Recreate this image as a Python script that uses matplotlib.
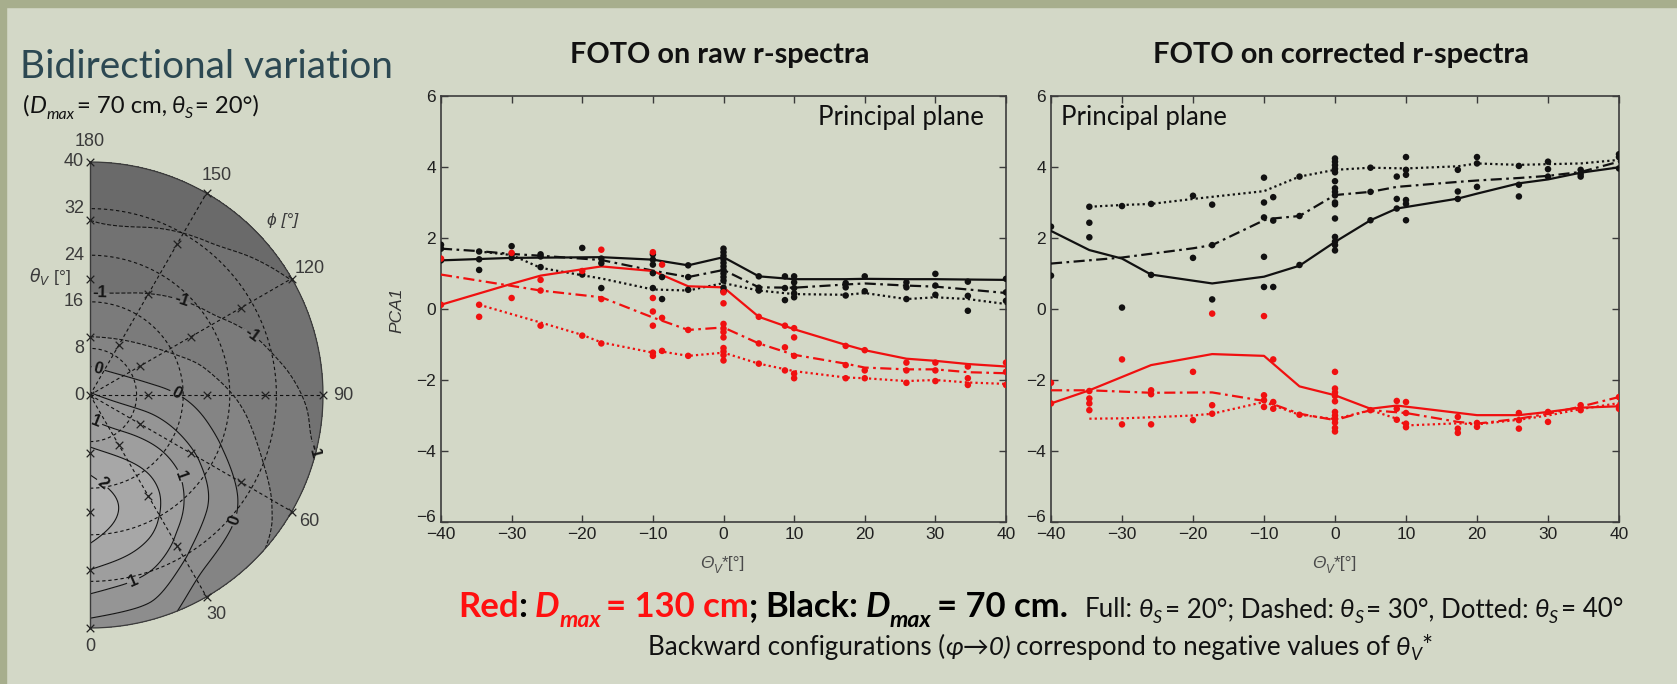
import numpy as np
import matplotlib
matplotlib.use("Agg")
import matplotlib.pyplot as plt
import matplotlib.tri as mtri
from matplotlib.transforms import IdentityTransform, ScaledTranslation
from matplotlib.colors import LinearSegmentedColormap
from matplotlib.patches import Rectangle

# ---------------- data ----------------
ANG = [-40, -30, -20, -10, 0, 10, 20, 30, 40]

raw_black_full_x = [-40, -30, -17.3, -10, -5, 0, 5, 10, 17.3, 20, 25.9, 30, 34.6, 40]
raw_black_full_y = [1.37, 1.44, 1.46, 1.39, 1.23, 1.46, 0.92, 0.84, 0.84, 0.85, 0.84, 0.84, 0.83, 0.82]
raw_black_dash_x = [-40, -34.6, -30, -25.9, -17.3, -10, -5, 0, 5, 10, 17.3, 20, 25.9, 30, 34.6, 40]
raw_black_dash_y = [1.70, 1.63, 1.55, 1.50, 1.38, 1.08, 0.90, 1.10, 0.61, 0.60, 0.69, 0.72, 0.66, 0.63, 0.55, 0.45]
raw_black_dot_x = [-34.6, -30, -25.9, -20, -17.3, -10, -5, 0, 5, 10, 17.3, 20, 25.9, 30, 34.6, 40]
raw_black_dot_y = [1.62, 1.52, 1.16, 0.95, 0.86, 0.55, 0.52, 0.73, 0.52, 0.42, 0.40, 0.45, 0.28, 0.33, 0.28, 0.14]
raw_red_full_x = [-40, -30, -25.9, -17.3, -10, -5, 0, 5, 10, 17.3, 20, 25.9, 30, 34.6, 40]
raw_red_full_y = [0.12, 0.71, 0.94, 1.20, 1.07, 0.64, 0.61, -0.22, -0.57, -1.01, -1.16, -1.40, -1.46, -1.55, -1.62]
raw_red_dash_x = [-40, -25.9, -17.3, -10, -5, 0, 5, 10, 17.3, 20, 25.9, 30, 34.6, 40]
raw_red_dash_y = [0.97, 0.52, 0.33, -0.24, -0.59, -0.52, -0.97, -1.29, -1.54, -1.65, -1.70, -1.70, -1.78, -1.81]
raw_red_dot_x = [-34.6, -25.9, -20, -17.3, -10, -8.7, -5, 0, 5, 10, 17.3, 20, 25.9, 30, 34.6, 40]
raw_red_dot_y = [0.12, -0.38, -0.73, -0.94, -1.23, -1.20, -1.32, -1.23, -1.54, -1.75, -1.93, -1.95, -2.03, -2.00, -2.07, -2.11]

cor_black_full_x = [-40, -34.6, -30, -25.9, -17.3, -10, -5, 0, 5, 8.7, 17.3, 20, 25.9, 30, 34.6, 40]
cor_black_full_y = [2.20, 1.66, 1.42, 0.97, 0.72, 0.91, 1.22, 1.89, 2.50, 2.83, 3.11, 3.25, 3.54, 3.65, 3.84, 3.99]
cor_black_dash_x = [-40, -30, -20, -17.3, -10, -8.7, -5, 0, 5, 8.7, 17.3, 20, 25.9, 30, 34.6, 40]
cor_black_dash_y = [1.28, 1.45, 1.71, 1.80, 2.50, 2.55, 2.62, 3.21, 3.30, 3.44, 3.58, 3.62, 3.69, 3.75, 3.86, 4.15]
cor_black_dot_x = [-34.6, -30, -25.9, -20, -17.3, -10, -5, 0, 5, 10, 17.3, 20, 25.9, 30, 34.6, 40]
cor_black_dot_y = [2.88, 2.93, 2.96, 3.10, 3.16, 3.32, 3.73, 3.92, 3.98, 3.96, 4.02, 4.10, 4.06, 4.08, 4.10, 4.20]
cor_red_full_x = [-40, -34.6, -25.9, -17.3, -10, -5, 0, 5, 8.7, 10, 20, 25.9, 30, 34.6, 40]
cor_red_full_y = [-2.66, -2.29, -1.58, -1.27, -1.32, -2.18, -2.43, -2.81, -2.72, -2.75, -2.99, -2.99, -2.90, -2.78, -2.74]
cor_red_dash_x = [-40, -34.6, -25.9, -17.3, -10, -5, 0, 5, 10, 17.3, 20, 25.9, 30, 34.6, 40]
cor_red_dash_y = [-2.29, -2.29, -2.36, -2.35, -2.59, -2.95, -3.13, -2.85, -2.93, -3.18, -3.23, -3.09, -2.95, -2.75, -2.48]
cor_red_dot_x = [-34.6, -30, -25.9, -20, -17.3, -10, -5, 0, 5, 8.7, 10, 17.3, 20, 25.9, 30, 34.6, 40]
cor_red_dot_y = [-3.09, -3.08, -3.05, -3.00, -2.95, -2.62, -2.98, -3.10, -2.85, -3.09, -3.28, -3.22, -3.25, -3.12, -3.00, -2.82, -2.65]

raw_black_pts = [(-40, [1.81, 1.70, 1.37]), (-34.6, [1.40, 1.10, 1.62]), (-30, [1.77, 1.54, 1.44]),
                 (-25.9, [1.54, 1.18, 1.48]), (-20, [1.72, 0.97]), (-17.3, [1.42, 1.29, 0.59]),
                 (-10, [1.54, 1.39, 1.25, 1.01, 0.59]), (-8.7, [0.90, 0.28]), (-5, [1.23, 0.90, 0.54]),
                 (0, [1.70, 1.60, 1.50, 1.40, 1.30, 1.20, 1.10, 1.00, 0.90, 0.80, 0.60, 0.50]),
                 (5, [0.92, 0.60, 0.52]), (8.7, [0.92, 0.59, 0.25]), (10, [0.92, 0.75, 0.59, 0.44, 0.33]),
                 (17.3, [0.73, 0.61, 0.38]), (20, [0.92, 0.50]), (25.9, [0.75, 0.61, 0.28]),
                 (30, [0.99, 0.66, 0.40]), (34.6, [0.77, 0.37, -0.05]), (40, [0.85, 0.47, 0.23])]
raw_red_pts = [(-40, [1.42, 0.12]), (-34.6, [0.12, -0.22]), (-30, [1.58, 0.31]), (-25.9, [0.82, 0.52, -0.47]),
               (-20, [1.07, -0.75]), (-17.3, [1.67, 0.28, -0.97]), (-10, [1.60, 0.31, -0.07, -0.47, -1.23, -1.32]),
               (-8.7, [1.25, -0.25, -1.18]), (-5, [-0.59, -1.32]),
               (0, [0.47, 0.16, -0.42, -0.55, -0.65, -0.80, -1.10, -1.20, -1.30, -1.45]),
               (5, [-0.22, -0.97, -1.54]), (8.7, [-0.47, -1.08, -1.73]), (10, [-0.54, -0.80, -1.32, -1.82, -1.95]),
               (17.3, [-1.04, -1.58, -1.95]), (20, [-1.16, -1.73, -1.95]), (25.9, [-1.51, -1.73, -2.08]),
               (30, [-1.51, -1.73, -2.03]), (34.6, [-1.62, -1.95, -2.14]), (40, [-1.51, -1.77, -2.14])]
cor_black_pts = [(-40, [2.32, 0.94]), (-34.6, [2.88, 2.43, 2.02]), (-30, [2.90, 0.04]), (-25.9, [2.96, 0.96]),
                 (-20, [3.19, 1.44]), (-17.3, [2.94, 1.80, 0.27]), (-10, [3.70, 3.00, 2.58, 1.47, 0.62]),
                 (-8.7, [3.15, 2.49, 0.62]), (-5, [3.73, 2.62, 1.24]),
                 (0, [4.24, 4.15, 4.05, 3.95, 3.85, 3.60, 3.40, 3.30, 3.20, 3.00, 2.95, 2.55, 2.03, 1.90, 1.80, 1.65]),
                 (5, [3.98, 3.30, 2.50]), (8.7, [3.73, 3.10, 2.83]), (10, [4.28, 3.92, 3.78, 3.07, 2.96, 2.50]),
                 (17.3, [3.92, 3.31, 3.10]), (20, [4.28, 4.10, 3.44]), (25.9, [4.03, 3.50, 3.17]),
                 (30, [4.15, 3.94, 3.73]), (34.6, [3.92, 3.80, 3.73]), (40, [4.36, 4.28, 3.96])]
cor_red_pts = [(-40, [-2.08, -2.66]), (-34.6, [-2.31, -2.52, -2.66, -2.85]), (-30, [-1.42, -3.25]),
               (-25.9, [-2.29, -2.40, -3.25]), (-20, [-1.77, -3.13]), (-17.3, [-0.13, -2.71, -2.95]),
               (-10, [-0.20, -2.43, -2.57, -2.76]), (-8.7, [-1.42, -2.62, -2.81]), (-5, [-2.98]),
               (0, [-1.77, -2.24, -2.35, -2.45, -2.60, -2.90, -3.00, -3.10, -3.20, -3.35, -3.45]),
               (5, [-2.85]), (8.7, [-2.59, -2.81, -3.12]), (10, [-2.62, -2.93, -3.23, -3.33]),
               (17.3, [-3.04, -3.37, -3.49]), (20, [-3.21, -3.32]), (25.9, [-2.93, -3.13, -3.37]),
               (30, [-2.90, -3.18]), (34.6, [-2.71, -2.85]), (40, [-2.48, -2.74, -2.81])]

# polar PCA1 field, sampled on a lattice (x = theta*sin(phi), y = -theta*cos(phi)); rows: y, cols: x
polar_lat_x = [0, 10, 20, 30, 40]
polar_lat_y = [40, 30, 20, 10, 0, -10, -20, -30, -40]
polar_lat_pca = [
    [-1.85, -1.90, -2.00, -2.10, -2.20],
    [-1.50, -1.55, -1.65, -1.80, -1.95],
    [-1.12, -1.12, -1.23, -1.40, -1.60],
    [-0.50, -0.60, -0.80, -1.05, -1.30],
    [0.55, 0.20, -0.25, -0.75, -1.05],
    [1.62, 1.20, 0.30, -0.55, -1.05],
    [2.30, 1.70, 0.50, -0.40, -0.90],
    [1.50, 1.05, -0.05, -0.60, -1.00],
    [0.30, 0.10, -0.50, -0.90, -1.20],
]
polar_meas_theta = [10, 20, 30, 40]
polar_meas_phi = [0, 30, 60, 90, 120, 150, 180]
polar_rings = [8, 16, 24, 32]
polar_ring_labels = [40, 32, 24, 16, 8, 0]
polar_phi_labels = [150, 120, 90, 60, 30]
# contour label positions (theta, phi)
polar_clabel_pos = [(16.5, 4), (20.2, 45), (31.5, 12.7), (32.6, 49), (14.3, 87), (4.6, 163), (4, 20),
                    (38.5, 75), (30, 111), (22, 135), (16.5, 174)]

# ---------------- figure ----------------
W, H, DPI = 1677, 684, 100
FAM = ["Lato", "DejaVu Sans"]
ARIAL = ["Liberation Sans", "DejaVu Sans"]
plt.rcParams["font.family"] = ARIAL
fig = plt.figure(figsize=(W / DPI, H / DPI), dpi=DPI)
fig.patch.set_facecolor("#d3d8c7")
fig.patches.append(Rectangle((0, 1 - 7 / H), 1, 7 / H, transform=fig.transFigure, color="#a7ae8d", zorder=0))
fig.patches.append(Rectangle((0, 0), 6 / W, 1, transform=fig.transFigure, color="#a7ae8d", zorder=0))
renderer = fig.canvas.get_renderer()


def fbox(x0, y0, x1, y1):
    return [x0 / W, 1 - y1 / H, (x1 - x0) / W, (y1 - y0) / H]


def segments(x, y, segs, ha="left", width=None):
    """Draw text segments in a row; x,y in pixels (top-left origin), y = baseline."""
    def build(scale):
        items, total = [], 0.0
        for s in segs:
            if isinstance(s, (int, float)):
                items.append(float(s * scale))
                total += s * scale
                continue
            text, kw, dy = s
            kw = dict(kw)
            kw["fontsize"] = kw.get("fontsize", 12) * scale
            kw.setdefault("family", FAM)
            t = fig.text(0, 0, text, transform=IdentityTransform(), va="baseline", ha="left", **kw)
            w = t.get_window_extent(renderer).width
            items.append((t, w, dy * scale))
            total += w
        return items, total
    items, total = build(1.0)
    if width is not None:
        for it in items:
            if not isinstance(it, float):
                it[0].remove()
        items, total = build(width / total)
    cx = x - (total / 2 if ha == "center" else 0)
    for it in items:
        if isinstance(it, float):
            cx += it
            continue
        t, w, dy = it
        t.set_position((cx, H - y + dy))
        cx += w


# ---------------- main panels ----------------
STY = {"full": "-", "dash": (0, (5, 2, 1.2, 2)), "dot": (0, (1, 1.4))}


def flat(pts):
    xs, ys = [], []
    for xv, yl in pts:
        xs += [xv] * len(yl)
        ys += yl
    return xs, ys


def panel(box, lines, pts):
    ax = fig.add_axes(fbox(*box))
    ax.set_facecolor("none")
    for (xs, ys, col, st) in lines:
        ax.plot(xs, ys, color=col, ls=STY[st], lw=1.6, zorder=3)
    for (p, col) in pts:
        px, py = flat(p)
        ax.scatter(px, py, s=22, color=col, edgecolors="none", zorder=4)
    ax.set_xlim(-40, 40)
    ax.set_ylim(-6, 6)
    ax.set_xticks(ANG)
    ax.set_yticks(np.arange(-6, 7, 2))
    ax.tick_params(direction="in", top=True, right=True, length=5, width=1, color="#3a3a3a",
                   labelsize=12.5, labelcolor="#202020", pad=3.5)
    for sp in ax.spines.values():
        sp.set_color("#3c3c3c")
        sp.set_linewidth(1.2)
    # lift the lowest y label a little so it just clears the first x label
    lab = ax.get_yticklabels()[0]
    lab.set_transform(lab.get_transform() + ScaledTranslation(0, 4 / 72, fig.dpi_scale_trans))
    return ax


RED, BLK = "#f01010", "#111111"
ax1 = panel((441, 96, 1006, 522),
            [(raw_black_full_x, raw_black_full_y, BLK, "full"), (raw_black_dash_x, raw_black_dash_y, BLK, "dash"),
             (raw_black_dot_x, raw_black_dot_y, BLK, "dot"), (raw_red_full_x, raw_red_full_y, RED, "full"),
             (raw_red_dash_x, raw_red_dash_y, RED, "dash"), (raw_red_dot_x, raw_red_dot_y, RED, "dot")],
            [(raw_black_pts, BLK), (raw_red_pts, RED)])
ax2 = panel((1051, 96, 1619, 522),
            [(cor_black_full_x, cor_black_full_y, BLK, "full"), (cor_black_dash_x, cor_black_dash_y, BLK, "dash"),
             (cor_black_dot_x, cor_black_dot_y, BLK, "dot"), (cor_red_full_x, cor_red_full_y, RED, "full"),
             (cor_red_dash_x, cor_red_dash_y, RED, "dash"), (cor_red_dot_x, cor_red_dot_y, RED, "dot")],
            [(cor_black_pts, BLK), (cor_red_pts, RED)])

fig.text(397 / W, 1 - 310 / H, "PCA1", rotation=90, style="italic", fontsize=12.5, color="#333333",
         ha="center", va="center", family=ARIAL)

GRAYT = "#4a4a4a"
for cx in (723, 1335):
    segments(cx, 568, [("Θ", dict(fontsize=12.5, style="italic", color=GRAYT, family=ARIAL), 0),
                       ("V", dict(fontsize=8.5, style="italic", color=GRAYT, family=ARIAL), -5),
                       ("*[°]", dict(fontsize=12.5, color=GRAYT, family=ARIAL), 0)], ha="center")

segments(818, 125, [("Principal plane", dict(fontsize=16, color="#111111"), 0)], width=166)
segments(1061, 125, [("Principal plane", dict(fontsize=16, color="#111111"), 0)], width=166)

segments(720, 63, [("FOTO on raw r-spectra", dict(fontsize=18, weight="bold", color="#111111"), 0)],
         ha="center", width=300)
segments(1341, 63, [("FOTO on corrected r-spectra", dict(fontsize=18, weight="bold", color="#111111"), 0)],
         ha="center", width=377)

# left header
segments(20, 78, [("Bidirectional variation", dict(fontsize=25, weight="normal", color="#2c4852"), 0)], width=373)
R = dict(fontsize=15, color="#111111")
I = dict(fontsize=15, color="#111111", style="italic")
IS = dict(fontsize=10, color="#111111", style="italic")
segments(23, 113, [("(", R, 0), ("D", I, 0), ("max", IS, -5), 2, ("= 70 cm,", R, 0), 4,
                   ("θ", I, 0), ("S", IS, -4), 2, ("= 20°)", R, 0)], width=237)

# captions
BR = dict(fontsize=18, weight="bold", color="#ff1010")
BRI = dict(fontsize=18, weight="bold", style="italic", color="#ff1010")
BRS = dict(fontsize=12, weight="bold", style="italic", color="#ff1010")
BK = dict(fontsize=18, weight="bold", color="#000000")
BKI = dict(fontsize=18, weight="bold", style="italic", color="#000000")
BKS = dict(fontsize=12, weight="bold", style="italic", color="#000000")
segments(458, 617, [("Red", BR, 0), (":", BK, 0), 5, ("D", BRI, 0), ("max", BRS, -7), 4, ("= 130 cm", BR, 0),
                    (";", BK, 0), 5, ("Black:", BK, 0), 5, ("D", BKI, 0), ("max", BKS, -7), 4,
                    ("= 70 cm.", BK, 0)], width=611)
r = dict(fontsize=13, color="#111111")
ri = dict(fontsize=13, color="#111111", style="italic")
rs = dict(fontsize=9, color="#111111", style="italic")
segments(1085, 617, [("Full:", r, 0), 4, ("θ", ri, 0), ("S", rs, -4), 2, ("= 20°; Dashed:", r, 0), 4,
                     ("θ", ri, 0), ("S", rs, -4), 2, ("= 30°, Dotted:", r, 0), 4, ("θ", ri, 0), ("S", rs, -4), 2,
                     ("= 40°", r, 0)], width=537)
segments(648, 655, [("Backward configurations (", dict(fontsize=14, color="#111111"), 0),
                    ("φ→0)", dict(fontsize=14, color="#111111", style="italic"), 0), 4,
                    ("correspond to negative values of", dict(fontsize=14, color="#111111"), 0), 4,
                    ("θ", dict(fontsize=14, color="#111111", style="italic"), 0),
                    ("V", dict(fontsize=9.5, color="#111111", style="italic"), -4),
                    ("*", dict(fontsize=14, color="#111111"), 0)], width=786)

# ---------------- polar contour plot ----------------
axp = fig.add_axes(fbox(90, 162, 323, 628))
axp.set_xlim(0, 40)
axp.set_ylim(-40, 40)
axp.axis("off")

LX, LY = np.meshgrid(np.array(polar_lat_x, float), np.array(polar_lat_y, float))
tri = mtri.Triangulation(LX.ravel(), LY.ravel())
interp = mtri.CubicTriInterpolator(tri, np.array(polar_lat_pca).ravel(), kind="min_E")
pf = np.linspace(0, 180, 241)
tf = np.linspace(0, 40, 161)
PF, TF = np.meshgrid(pf, tf)
X = np.clip(TF * np.sin(np.radians(PF)), 1e-7, 40 - 1e-7)
Y = np.clip(-TF * np.cos(np.radians(PF)), -40 + 1e-7, 40 - 1e-7)
ZF = np.ma.filled(interp(X, Y), np.nan)
cmap = LinearSegmentedColormap.from_list("g", ["#626262", "#b4b4b4"])
axp.contourf(X, Y, ZF, levels=np.arange(-2.5, 3.01, 0.5), cmap=cmap, vmin=-2.2, vmax=2.5)
axp.contour(X, Y, ZF, levels=[-1.5, -0.5, 0.5, 1.5], colors="#151515", linewidths=0.8)
cs = axp.contour(X, Y, ZF, levels=[-1.0, 0.0, 1.0, 2.0], colors="#151515", linewidths=0.8)
man = [(t * np.sin(np.radians(p)), -t * np.cos(np.radians(p))) for t, p in polar_clabel_pos]
try:
    lbls = axp.clabel(cs, manual=man, fmt="%d", fontsize=12, inline=True, inline_spacing=2)
    for tl in lbls:
        tl.set_fontweight("bold")
except Exception:
    pass

ang = np.radians(np.linspace(0, 180, 181))
for rr in polar_rings:
    axp.plot(rr * np.sin(ang), -rr * np.cos(ang), color="#101010", lw=0.8, ls=(0, (3, 2.5)))
for p in polar_phi_labels:
    a = np.radians(p)
    axp.plot([0, 40 * np.sin(a)], [0, -40 * np.cos(a)], color="#101010", lw=0.8, ls=(0, (3, 2.5)))
axp.plot(40 * np.sin(ang), -40 * np.cos(ang), color="#3a3a3a", lw=0.9, clip_on=False)
axp.plot([0, 0], [-40, 40], color="#3a3a3a", lw=1.0, clip_on=False)

mx = [0.0] + [t * np.sin(np.radians(p)) for t in polar_meas_theta for p in polar_meas_phi]
my = [0.0] + [-t * np.cos(np.radians(p)) for t in polar_meas_theta for p in polar_meas_phi]
axp.scatter(mx, my, marker="x", s=30, c="#222222", linewidths=0.9, clip_on=False, zorder=5)

PT = dict(fontsize=13, color="#3a3a3a", family=ARIAL)
for v in polar_ring_labels:
    axp.text(-1.0, v, str(v), ha="right", va="center", clip_on=False, **PT)
axp.text(0, 43.5, "180", ha="center", va="center", clip_on=False, **PT)
axp.text(0, -43.2, "0", ha="center", va="center", clip_on=False, **PT)
for p in polar_phi_labels:
    a = np.radians(p)
    axp.text(43.5 * np.sin(a), -43.5 * np.cos(a), str(p), ha="center", va="center", clip_on=False, **PT)
axp.text(33.1, 29.9, "ϕ [°]", ha="center", va="center", clip_on=False, style="italic",
         fontsize=12.5, color="#3a3a3a", family=ARIAL)
axp.text(-6.9, 20.4, r"$\theta_V$ [°]", ha="center", va="center", clip_on=False,
         fontsize=12.5, color="#3a3a3a", family=ARIAL)

fig.savefig("out.png", dpi=DPI, facecolor=fig.get_facecolor())
